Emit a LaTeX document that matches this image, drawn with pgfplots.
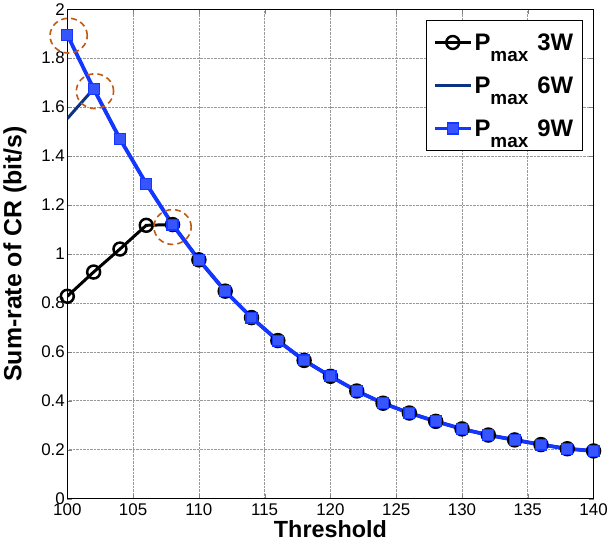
\documentclass[border=0pt]{standalone}
\usepackage{pgfplots}
\pgfplotsset{compat=1.18}
\usepackage{fontspec}
\setmainfont{Liberation Sans}
\definecolor{nineblue}{RGB}{20,55,255}
\definecolor{sixblue}{RGB}{12,50,130}
\definecolor{circbrown}{RGB}{190,90,20}
\newcommand{\pmax}[1]{\textbf{P\raisebox{-11pt}{\fontsize{19}{19}\selectfont max}\hspace{9pt}#1}}
\begin{document}
\begin{tikzpicture}
\begin{axis}[
  scale only axis,
  width=529pt, height=492pt,
  xmin=100, xmax=140, ymin=0, ymax=2,
  xtick={100,105,...,140},
  ytick={0,0.2,...,2.01},
  yticklabels={0,0.2,0.4,0.6,0.8,1,1.2,1.4,1.6,1.8,2},
  tick align=inside,
  tick pos=both,
  major tick length=5pt,
  grid=major,
  major grid style={densely dotted, gray!80, line width=0.6pt},
  axis line style={line width=1pt},
  /pgf/number format/assume math mode=true,
  ticklabel style={font=\fontsize{17}{19}\selectfont},
  xticklabel style={yshift=-2pt},
  yticklabel style={xshift=1pt},
  xlabel={\textbf{Threshold}},
  ylabel={\textbf{Sum-rate of CR (bit/s)}},
  xlabel style={font=\fontsize{23.5}{24}\selectfont, yshift=2pt},
  ylabel style={font=\fontsize{25}{26}\selectfont, yshift=8pt},
  legend style={at={(0.979,0.978)}, anchor=north east, draw=black, line width=1pt,
    font=\fontsize{24}{26}\selectfont, row sep=21pt, inner xsep=7pt, inner ysep=11pt},
  legend cell align=left,
  legend image code/.code={\draw[mark repeat=2, mark phase=2, #1] plot coordinates {(0pt,0pt) (18pt,0pt) (36pt,0pt)};},
]
\addplot[black, line width=3pt, mark=o, mark size=6.5pt, mark options={line width=2.5pt, fill=none}]
 coordinates {(100,0.827)(102,0.926)(104,1.020)(106,1.117)(108,1.120)(110,0.976)(112,0.848)(114,0.740)(116,0.646)(118,0.565)(120,0.500)(122,0.440)(124,0.390)(126,0.350)(128,0.316)(130,0.285)(132,0.260)(134,0.240)(136,0.221)(138,0.204)(140,0.195)};
\addlegendentry{\pmax{3W}}
\addplot[sixblue, line width=3pt, mark=none]
 coordinates {(100,1.553)(102,1.675)(104,1.470)(106,1.287)(108,1.120)(110,0.976)(112,0.848)(114,0.740)(116,0.646)(118,0.565)(120,0.500)(122,0.440)(124,0.390)(126,0.350)(128,0.316)(130,0.285)(132,0.260)(134,0.240)(136,0.221)(138,0.204)(140,0.195)};
\addlegendentry{\pmax{6W}}
\addplot[nineblue, line width=3.8pt, mark=square*, mark size=5.5pt, mark options={line width=1.2pt, fill=nineblue!85!white, draw=nineblue}]
 coordinates {(100,1.895)(102,1.675)(104,1.470)(106,1.287)(108,1.120)(110,0.976)(112,0.848)(114,0.740)(116,0.646)(118,0.565)(120,0.500)(122,0.440)(124,0.390)(126,0.350)(128,0.316)(130,0.285)(132,0.260)(134,0.240)(136,0.221)(138,0.204)(140,0.195)};
\addlegendentry{\pmax{9W}}
\addplot[only marks, mark=o, mark size=17.5pt, forget plot,
  mark options={xscale=1.07, draw=circbrown, line width=1.6pt, dash pattern=on 6pt off 4pt, fill=none}]
 coordinates {(100.1,1.892)(102.1,1.665)(108.0,1.110)};
\end{axis}
\end{tikzpicture}
\end{document}
